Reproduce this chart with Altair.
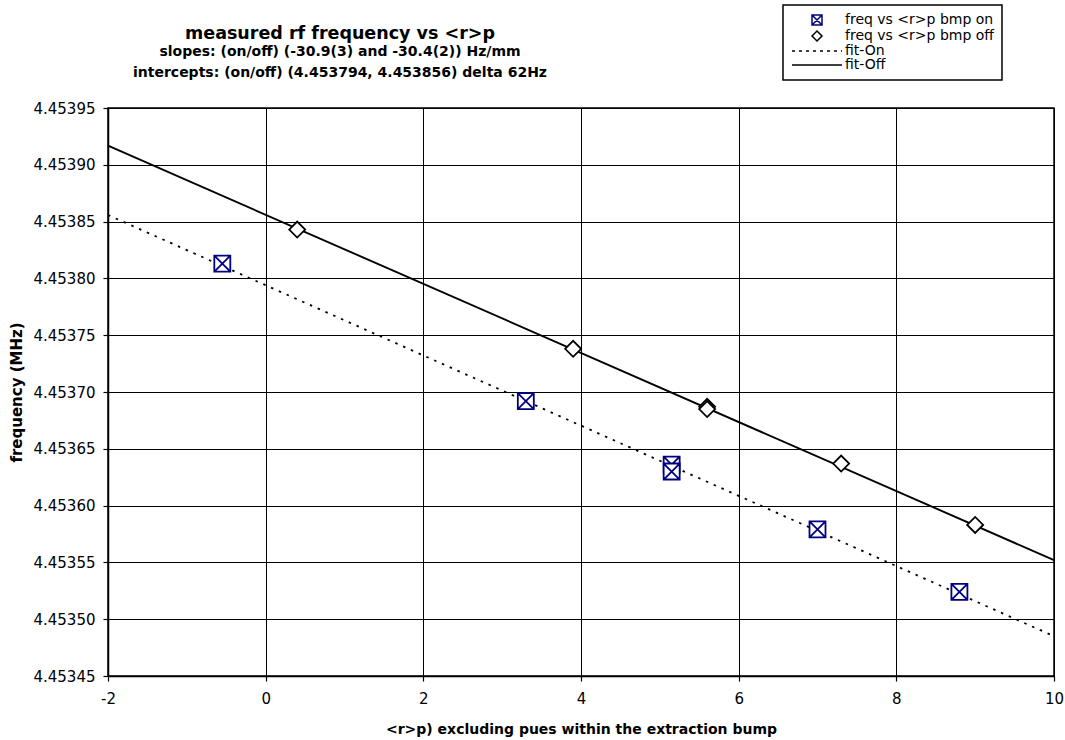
import altair as alt
import pandas as pd

# Measured points: rf frequency (MHz) against <r>p (mm), bump on / bump off
ON_X = [-0.55, 3.3, 5.15, 5.15, 7.0, 8.8]
ON_Y = [4.453813, 4.453692, 4.453636, 4.453630, 4.453579, 4.453524]
OFF_X = [0.4, 3.9, 5.6, 5.6, 7.3, 9.0]
OFF_Y = [4.453843, 4.453738, 4.453687, 4.453685, 4.453637, 4.453583]

SERIES = ["freq vs <r>p bmp on", "freq vs <r>p bmp off", "fit-On", "fit-Off"]

# Linear fits (on, off): slope in Hz/mm, intercept in MHz
SLOPES_HZ_PER_MM = [-30.9, -30.4]
INTERCEPTS_MHZ = [4.453794, 4.453856]
FIT_X = [-2, 10]

X_TICKS = [-2, 0, 2, 4, 6, 8, 10]
Y_TICKS = [4.45345, 4.45350, 4.45355, 4.45360, 4.45365, 4.45370,
           4.45375, 4.45380, 4.45385, 4.45390, 4.45395]

FONT = "DejaVu Sans"

points = pd.DataFrame({
    "x": ON_X + OFF_X,
    "y": ON_Y + OFF_Y,
    "series": [SERIES[0]] * len(ON_X) + [SERIES[1]] * len(OFF_X),
})

fit_rows = []
for name, slope, icpt in zip(SERIES[2:], SLOPES_HZ_PER_MM, INTERCEPTS_MHZ):
    for xv in FIT_X:
        fit_rows.append({"x": xv, "y": icpt + slope * 1e-6 * xv, "series": name})
fits = pd.DataFrame(fit_rows)

# symbol paths: boxed cross, and horizontal strokes for the fit entries
BOX_X = "M-1,-1H1V1H-1ZM-1,-1L1,1M1,-1L-1,1"
DOTTED = ("M-5,0H-4.4M-3.6,0H-3M-2.2,0H-1.6M-0.8,0H-0.2"
          "M0.6,0H1.2M2,0H2.6M3.4,0H4M4.8,0H5")
SOLID = "M-5,0H5"

x_enc = alt.X("x:Q", title="<r>p) excluding pues within the extraction bump",
              scale=alt.Scale(domain=[X_TICKS[0], X_TICKS[-1]], nice=False, zero=False),
              axis=alt.Axis(values=X_TICKS, format="d",
                            labelExpr="replace(datum.label, '\u2212', '-')"))
y_enc = alt.Y("y:Q", title="frequency (MHz)",
              scale=alt.Scale(domain=[Y_TICKS[0], Y_TICKS[-1]], nice=False, zero=False),
              axis=alt.Axis(values=Y_TICKS, format=".5f"))

fit_off = alt.Chart(fits).transform_filter(
    alt.datum.series == SERIES[3]
).mark_line(color="black", strokeWidth=1.9).encode(x=x_enc, y=y_enc)

fit_on = alt.Chart(fits).transform_filter(
    alt.datum.series == SERIES[2]
).mark_line(color="black", strokeWidth=1.8, strokeDash=[2.5, 6]).encode(x=x_enc, y=y_enc)

shape_scale = alt.Scale(domain=SERIES, range=[BOX_X, "diamond", DOTTED, SOLID])
stroke_scale = alt.Scale(domain=SERIES, range=["#000080", "black", "black", "black"])

pts = alt.Chart(points).mark_point(
    filled=False, fill="white", fillOpacity=1, opacity=1, strokeWidth=1.8, size=256
).encode(
    x=x_enc, y=y_enc,
    shape=alt.Shape("series:N", scale=shape_scale, title=None),
    stroke=alt.Stroke("series:N", scale=stroke_scale, title=None),
)

chart = alt.layer(fit_off, fit_on, pts).properties(
    width=946, height=568,
    autosize=alt.AutoSizeParams(type="none"),
    padding={"left": 108, "top": 108, "right": 11, "bottom": 64},
    background="white",
    title=alt.Title(
        "measured rf frequency vs <r>p",
        subtitle=["slopes: (on/off) (-30.9(3) and -30.4(2)) Hz/mm",
                  "intercepts: (on/off) (4.453794, 4.453856) delta 62Hz"],
        font=FONT, fontSize=17.5, fontWeight="bold", color="black",
        subtitleFont=FONT, subtitleFontSize=14, subtitleFontWeight="bold",
        subtitleColor="black", subtitleLineHeight=21, subtitlePadding=3,
        anchor="middle", frame="group", dx=-241, offset=-76,
    ),
).configure_view(
    stroke="black", strokeWidth=1.5
).configure_axis(
    grid=True, gridColor="black", gridWidth=1, gridOpacity=1,
    domainColor="black", domainWidth=1.5,
    tickColor="black", tickSize=5, tickWidth=1.2,
    labelFont=FONT, labelFontSize=15, labelColor="black",
    titleFont=FONT, titleFontWeight="bold", titleColor="black",
    labelFlush=False, labelOverlap=False,
).configure_axisX(
    labelPadding=10, titleFontSize=14, titlePadding=16,
).configure_axisY(
    labelPadding=8, titleFontSize=15, titlePadding=8,
).configure_legend(
    orient="none", legendX=675, legendY=-103,
    strokeColor="black", strokeWidth=1.5, fillColor="white", padding=8,
    labelFont=FONT, labelFontSize=14, labelColor="black",
    symbolOffset=19, labelOffset=21,
    symbolSize=100, symbolStrokeWidth=1.5, rowPadding=0, labelLimit=400,
)

chart.save("out.html", embed_options={"renderer": "svg", "actions": False})
